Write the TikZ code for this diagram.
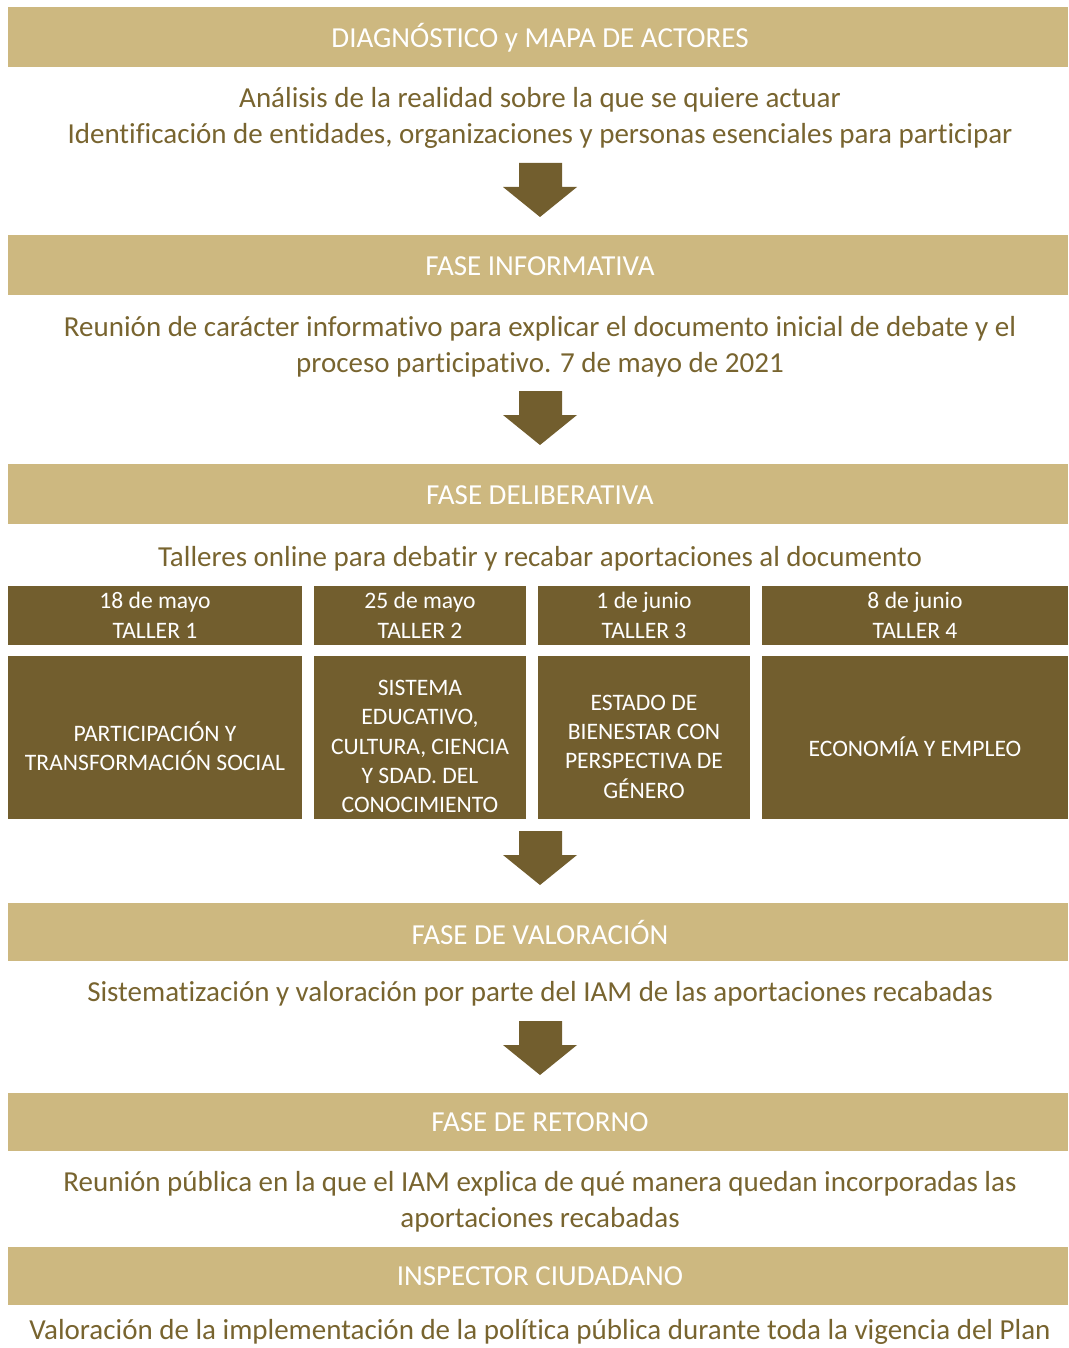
\documentclass[tikz,border=0pt]{standalone}
\usepackage{fontspec}
\setmainfont{Carlito}[Ligatures=NoCommon]
\definecolor{tanbar}{HTML}{CDB880}
\definecolor{darkbox}{HTML}{725E2E}
\definecolor{bodytxt}{HTML}{78642F}
\newcommand\blockarrowat[1]{%
  \fill[darkbox] (519,#1) -- (562,#1) -- (562,#1+24) -- (577,#1+24) -- (540,#1+54) -- (503,#1+24) -- (519,#1+24) -- cycle;}
\begin{document}
\begin{tikzpicture}[x=1pt,y=-1pt,
  bar/.style={fill=tanbar, inner sep=0pt, minimum width=1060pt, minimum height=60pt},
  bartext/.style={text=white, inner sep=0pt, font=\fontsize{29}{34}\selectfont},
  body/.style={text=bodytxt, inner sep=0pt, align=center, font=\fontsize{29}{36}\selectfont},
  datebox/.style={fill=darkbox, text=white, inner sep=0pt, align=center, minimum height=59pt, font=\fontsize{23.6}{29.5}\selectfont},
  topicbox/.style={fill=darkbox, inner sep=0pt, minimum height=163pt},
  topictext/.style={text=white, inner sep=0pt, align=center, font=\fontsize{23.6}{29.3}\selectfont}]
\useasboundingbox (0,0) rectangle (1068,1348);
% headers
\node[bar] (h1) at (538,37.5) {};
\node[bartext] (h1t) at (540,38) {DIAGNÓSTICO y MAPA DE ACTORES};
\node[bar] (h2) at (538,265) {};
\node[bartext] (h2t) at (540,266) {FASE INFORMATIVA};
\node[bar] (h3) at (538,494) {};
\node[bartext] (h3t) at (540,495) {FASE DELIBERATIVA};
\node[bar, minimum height=58pt] (h4) at (538,932) {};
\node[bartext] (h4t) at (540,932) {FASE DE VALORACIÓN};
\node[bar, minimum height=58pt] (h5) at (538,1122) {};
\node[bartext] (h5t) at (540,1122) {FASE DE RETORNO};
\node[bar, minimum height=58pt] (h6) at (538,1276) {};
\node[bartext] (h6t) at (540,1276) {INSPECTOR CIUDADANO};
% body texts
\node[body] (t1) at (540,118) {Análisis de la realidad sobre la que se quiere actuar\\Identificación de entidades, organizaciones y personas esenciales para participar};
\node[body] (t2) at (540,347) {Reunión de carácter informativo para explicar el documento inicial de debate y el\\proceso participativo. 7 de mayo de 2021};
\node[body] (t3) at (540,559) {Talleres online para debatir y recabar aportaciones al documento};
\node[body] (t4) at (540,994) {Sistematización y valoración por parte del IAM de las aportaciones recabadas};
\node[body] (t5) at (540,1202) {Reunión pública en la que el IAM explica de qué manera quedan incorporadas las\\aportaciones recabadas};
\node[body] (t6) at (540,1332) {Valoración de la implementación de la política pública durante toda la vigencia del Plan};
% workshop date boxes
\node[datebox, minimum width=294pt] (d1) at (155,615.5) {18 de mayo\\TALLER 1};
\node[datebox, minimum width=212pt] (d2) at (420,615.5) {25 de mayo\\TALLER 2};
\node[datebox, minimum width=212pt] (d3) at (644,615.5) {1 de junio\\TALLER 3};
\node[datebox, minimum width=306pt] (d4) at (915,615.5) {8 de junio\\TALLER 4};
% workshop topic boxes
\node[topicbox, minimum width=294pt] (b1) at (155,737.5) {};
\node[topictext] (b1t) at ([yshift=-9pt]b1.center) {PARTICIPACIÓN Y\\TRANSFORMACIÓN SOCIAL};
\node[topicbox, minimum width=212pt] (b2) at (420,737.5) {};
\node[topictext] (b2t) at ([yshift=-9pt]b2.center) {SISTEMA\\EDUCATIVO,\\CULTURA, CIENCIA\\Y SDAD. DEL\\CONOCIMIENTO};
\node[topicbox, minimum width=212pt] (b3) at (644,737.5) {};
\node[topictext] (b3t) at ([yshift=-9pt]b3.center) {ESTADO DE\\BIENESTAR CON\\PERSPECTIVA DE\\GÉNERO};
\node[topicbox, minimum width=306pt] (b4) at (915,737.5) {};
\node[topictext] (b4t) at ([yshift=-9pt]b4.center) {ECONOMÍA Y EMPLEO};
% block arrows
\blockarrowat{163}
\blockarrowat{391}
\blockarrowat{831}
\blockarrowat{1021}
\end{tikzpicture}
\end{document}
